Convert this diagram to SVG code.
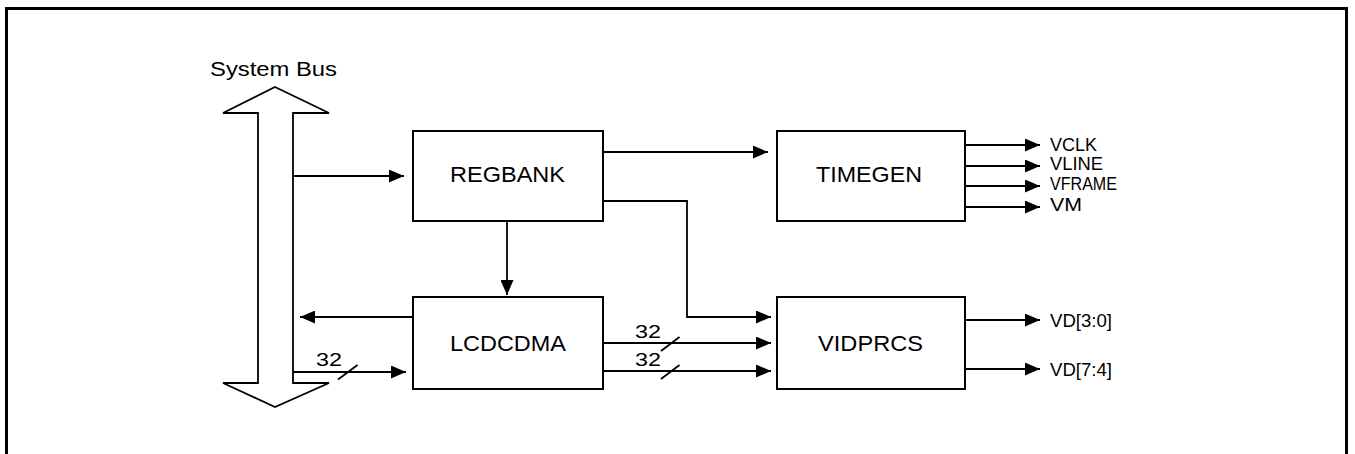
<svg xmlns="http://www.w3.org/2000/svg" width="1355" height="454" viewBox="0 0 1355 454">
<style>
.box{fill:#fff;stroke:#000;stroke-width:2}
.ln{fill:none;stroke:#000;stroke-width:1.8}
.t{font-family:"Liberation Sans",Arial,sans-serif;fill:#000}
.lbl{font-size:22px}
.sm{font-size:19px}
</style>
<defs>
<marker id="ah" markerUnits="userSpaceOnUse" markerWidth="15" markerHeight="13" refX="15" refY="6.5" orient="auto">
<path d="M0,0 L15,6.5 L0,13 z" fill="#000"/>
</marker>
</defs>
<rect width="1355" height="454" fill="#fff"/>
<path d="M6.5,460 V8.5 H1346.5 V460" fill="none" stroke="#000" stroke-width="3"/>
<g id="systembus">
<polygon points="275,87 329,113 293,113 293,383 329,383 275,407 223,383 258,383 258,113 223,113" fill="#fff" stroke="#000" stroke-width="1.8"/>
<text class="t" x="210" y="76" font-size="20" textLength="127" lengthAdjust="spacingAndGlyphs">System Bus</text>
</g>
<g id="regbank">
<rect class="box" x="413" y="131" width="190" height="90"/>
<text class="t lbl" x="450" y="182" textLength="115" lengthAdjust="spacingAndGlyphs">REGBANK</text>
</g>
<g id="timegen">
<rect class="box" x="777" y="131" width="188" height="90"/>
<text class="t lbl" x="816" y="182" textLength="106" lengthAdjust="spacingAndGlyphs">TIMEGEN</text>
</g>
<g id="lcdcdma">
<rect class="box" x="413" y="297" width="190" height="92"/>
<text class="t lbl" x="450" y="351" textLength="116" lengthAdjust="spacingAndGlyphs">LCDCDMA</text>
</g>
<g id="vidprcs">
<rect class="box" x="777" y="297" width="188" height="92"/>
<text class="t lbl" x="818" y="351" textLength="105" lengthAdjust="spacingAndGlyphs">VIDPRCS</text>
</g>
<g id="connectors">
<line class="ln" x1="293" y1="176" x2="404" y2="176" marker-end="url(#ah)"/>
<line class="ln" x1="603" y1="152" x2="768" y2="152" marker-end="url(#ah)"/>
<line class="ln" x1="507" y1="221" x2="507" y2="295" marker-end="url(#ah)"/>
<polyline class="ln" points="603,201 687,201 687,317 771,317" marker-end="url(#ah)"/>
<line class="ln" x1="413" y1="317" x2="300" y2="317" marker-end="url(#ah)"/>
<line class="ln" x1="293" y1="372" x2="406" y2="372" marker-end="url(#ah)"/>
<line class="ln" x1="338" y1="379.5" x2="357.5" y2="365"/>
<text class="t sm" x="316" y="366" textLength="26" lengthAdjust="spacingAndGlyphs">32</text>
<line class="ln" x1="603" y1="343" x2="771" y2="343" marker-end="url(#ah)"/>
<line class="ln" x1="661" y1="351" x2="679.5" y2="337"/>
<text class="t sm" x="635" y="338" textLength="26" lengthAdjust="spacingAndGlyphs">32</text>
<line class="ln" x1="603" y1="371" x2="771" y2="371" marker-end="url(#ah)"/>
<line class="ln" x1="661" y1="379" x2="679.5" y2="365"/>
<text class="t sm" x="635" y="366" textLength="26" lengthAdjust="spacingAndGlyphs">32</text>
<line class="ln" x1="965" y1="145" x2="1040" y2="145" marker-end="url(#ah)"/>
<line class="ln" x1="965" y1="166" x2="1040" y2="166" marker-end="url(#ah)"/>
<line class="ln" x1="965" y1="186" x2="1040" y2="186" marker-end="url(#ah)"/>
<line class="ln" x1="965" y1="207" x2="1040" y2="207" marker-end="url(#ah)"/>
<line class="ln" x1="965" y1="320" x2="1040" y2="320" marker-end="url(#ah)"/>
<line class="ln" x1="965" y1="369" x2="1040" y2="369" marker-end="url(#ah)"/>
</g>
<g id="outputs">
<text class="t sm" x="1050" y="151" textLength="47" lengthAdjust="spacingAndGlyphs">VCLK</text>
<text class="t sm" x="1050" y="170" textLength="53" lengthAdjust="spacingAndGlyphs">VLINE</text>
<text class="t sm" x="1050" y="190" textLength="67" lengthAdjust="spacingAndGlyphs">VFRAME</text>
<text class="t sm" x="1050" y="211" textLength="32" lengthAdjust="spacingAndGlyphs">VM</text>
<text class="t sm" x="1050" y="327" textLength="62" lengthAdjust="spacingAndGlyphs">VD[3:0]</text>
<text class="t sm" x="1050" y="376" textLength="62" lengthAdjust="spacingAndGlyphs">VD[7:4]</text>
</g>
</svg>
